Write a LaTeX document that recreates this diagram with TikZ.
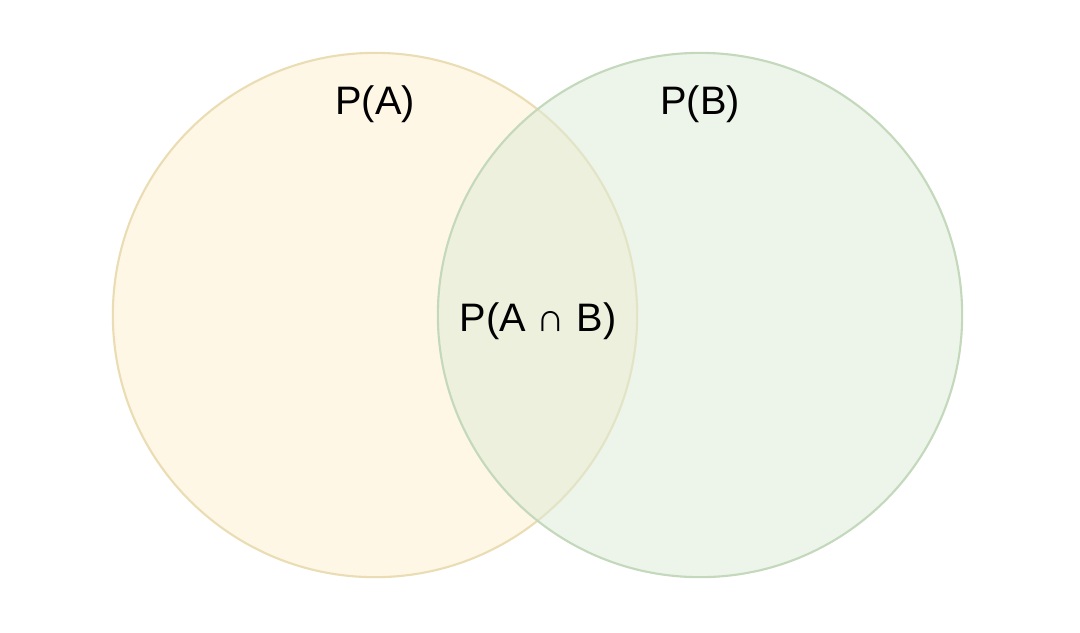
\documentclass[tikz,border=0pt]{standalone}
\usepackage{fontspec}
\setmainfont{Liberation Sans}
\definecolor{setAfill}{HTML}{FFF3D6}
\definecolor{setAline}{HTML}{EADDB4}
\definecolor{setBfill}{HTML}{DCEBD6}
\definecolor{setBline}{HTML}{C4D8BC}
\tikzset{
  setcircle/.style={circle, minimum size=5.24cm, inner sep=0pt, line width=0.6pt},
  setlabel/.style={font=\fontsize{11.3}{13}\selectfont}
}
\begin{document}
\begin{tikzpicture}[x=0.01cm,y=-0.01cm]
    \useasboundingbox[fill=white](0,0) rectangle (1080,632);

    \node[setcircle, draw=setAline, fill=setAfill, fill opacity=0.6](setA) at (375,315){};
    \node[setcircle, draw=setBline, fill=setBfill, fill opacity=0.5](setB) at (700,315){};

    \node[setlabel](labA) at (375,104){P(A)};
    \node[setlabel](labB) at (700,104){P(B)};
    \node[setlabel](labAB) at (538,321){P(A ∩ B)};
\end{tikzpicture}
\end{document}
